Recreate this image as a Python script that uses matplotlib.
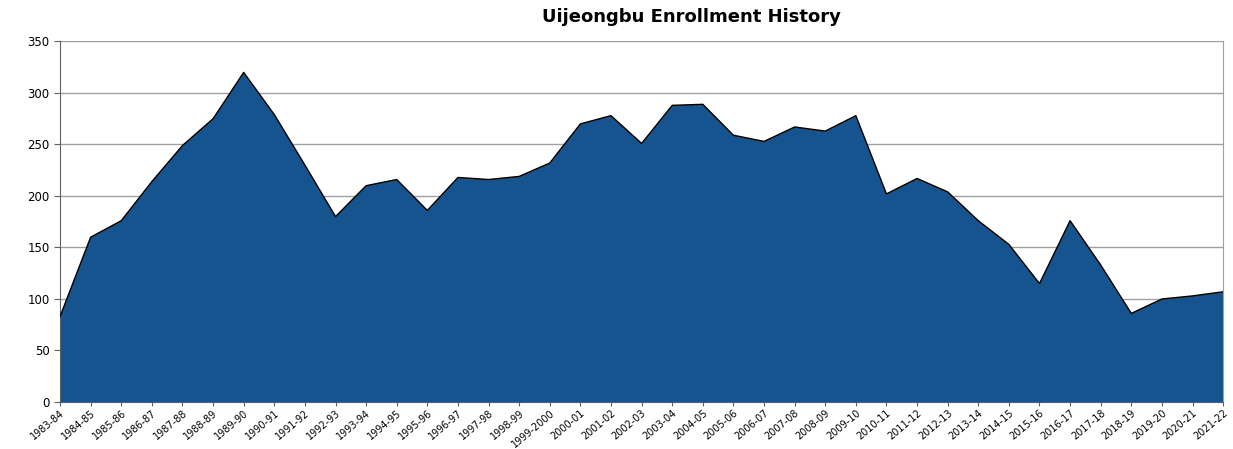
import matplotlib
matplotlib.use("Agg")
import matplotlib.pyplot as plt

# School years and enrollment counts
years = ["1983-84", "1984-85", "1985-86", "1986-87", "1987-88", "1988-89",
         "1989-90", "1990-91", "1991-92", "1992-93", "1993-94", "1994-95",
         "1995-96", "1996-97", "1997-98", "1998-99", "1999-2000", "2000-01",
         "2001-02", "2002-03", "2003-04", "2004-05", "2005-06", "2006-07",
         "2007-08", "2008-09", "2009-10", "2010-11", "2011-12", "2012-13",
         "2013-14", "2014-15", "2015-16", "2016-17", "2017-18", "2018-19",
         "2019-20", "2020-21", "2021-22"]
enrollment = [83, 160, 176, 214, 249, 275, 320, 279, 230, 180, 210, 216,
              186, 218, 216, 219, 232, 270, 278, 251, 288, 289, 259, 253,
              267, 263, 278, 202, 217, 204, 176, 153, 115, 176, 133, 86,
              100, 103, 107]
y_ticks = [0, 50, 100, 150, 200, 250, 300, 350]

fig = plt.figure(figsize=(12.33, 4.49), dpi=100)
ax = fig.add_axes([0.0487, 0.1047, 0.9433, 0.8029])

x = range(len(years))
ax.fill_between(x, enrollment, 0, facecolor="#16548f", edgecolor="none", zorder=2)
ax.plot(x, enrollment, color="black", linewidth=1.0, zorder=3)

ax.set_xlim(0, len(years) - 1)
ax.set_ylim(0, 350)
ax.set_yticks(y_ticks)
ax.grid(axis="y", color="#a0a0a0", linewidth=1.0, zorder=1)
ax.set_axisbelow(True)

ax.set_xticks(list(x))
ax.set_xticklabels(years, rotation=40, ha="right", rotation_mode="anchor", fontsize=7)
ax.tick_params(axis="y", labelsize=8.5, length=4, color="#606060")
ax.tick_params(axis="x", length=3, color="#606060", pad=1)

ax.spines["top"].set_visible(False)
ax.spines["left"].set_color("#606060")
ax.spines["right"].set_color("#a0a0a0")
ax.spines["bottom"].set_color("#606060")

fig.text(0.561, 0.962, "Uijeongbu Enrollment History", ha="center", va="center",
         fontsize=13, fontweight="bold")

fig.savefig("out.png", dpi=100)
